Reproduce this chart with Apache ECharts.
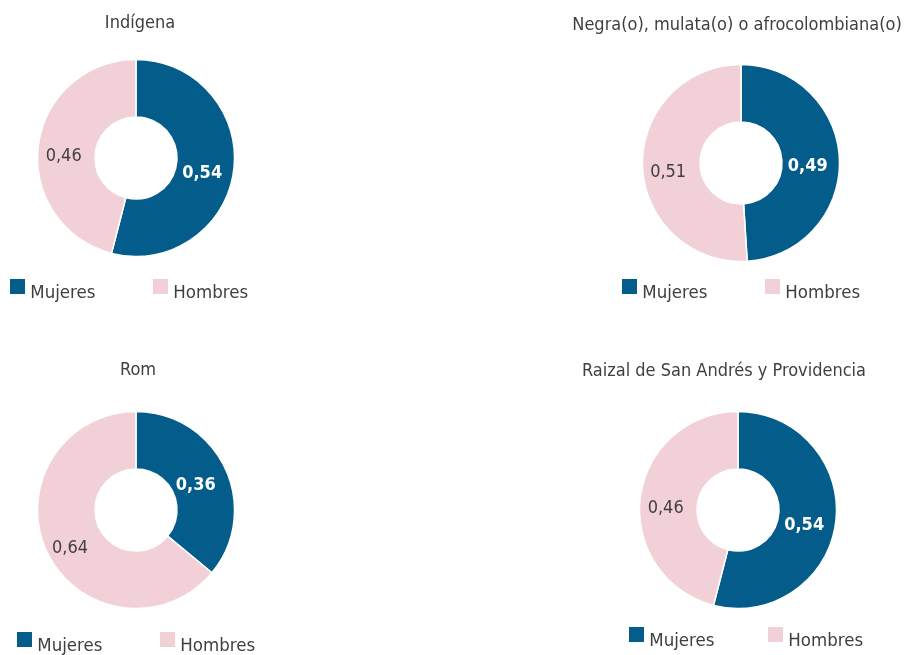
<!DOCTYPE html>
<html>
<head>
<meta charset="utf-8">
<script src="https://cdn.jsdelivr.net/npm/echarts@6/dist/echarts.min.js"></script>
<style>
  html, body { margin: 0; padding: 0; background: #fff; }
  #main { width: 904px; height: 655px; }
</style>
</head>
<body>
<div id="main"></div>
<script>
// data
const groups = ['Indígena', 'Negra(o), mulata(o) o afrocolombiana(o)', 'Rom', 'Raizal de San Andrés y Providencia']
const sexes = ['Mujeres', 'Hombres']
const mujeres = [0.54, 0.49, 0.36, 0.54]
const hombres = [0.46, 0.51, 0.64, 0.46]

// layout per panel
const centers = [[136, 158], [741, 163], [136, 510], [738, 510]]
const titlePos = [[140, 14], [737, 16], [138, 361], [724, 362]]
// [x Mujeres, x Hombres, top]
const legendPos = [[10, 153, 279], [622, 765, 279], [17, 160, 632], [629, 768, 627]]

const FONT = '"DejaVu Sans Condensed", "DejaVu Sans", sans-serif'
const BLUE = '#035C8A'
const PINK = '#F1D0D7'
const TEXT = '#3f3f3f'

const fmt = v => v.toFixed(2).replace('.', ',')

const myChart = echarts.init(document.getElementById('main'))

const title = groups.map((g, i) => ({
  text: g,
  left: titlePos[i][0],
  top: titlePos[i][1],
  padding: 0,
  textAlign: 'center',
  textStyle: { fontFamily: FONT, fontSize: 18, fontWeight: 'normal', color: TEXT }
}))

// a tall empty token pushes the text a few pixels down, like the original
const legend = []
legendPos.forEach(p => {
  sexes.forEach((s, k) => {
    legend.push({
      data: [s],
      left: p[k],
      top: p[2],
      padding: 0,
      icon: 'rect',
      itemWidth: 15,
      itemHeight: 15,
      itemGap: 0,
      selectedMode: false,
      itemStyle: { borderWidth: 0 },
      formatter: name => '{s| }{t|' + name + '}',
      textStyle: {
        rich: {
          s: { fontSize: 1, lineHeight: 32 },
          t: { fontFamily: FONT, fontSize: 18.5, color: TEXT, verticalAlign: 'bottom' }
        }
      }
    })
  })
})

const series = groups.map((g, i) => ({
  name: g,
  type: 'pie',
  center: centers[i],
  radius: [41, 98.5],
  startAngle: 90,
  clockwise: true,
  silent: true,
  itemStyle: { borderColor: '#fff', borderWidth: 1.5 },
  label: {
    position: 'inside',
    formatter: p => '{v|' + fmt(p.value) + '}{s' + p.dataIndex + '| }'
  },
  labelLine: { show: false },
  data: [
    {
      name: sexes[0],
      value: mujeres[i],
      itemStyle: { color: BLUE },
      label: {
        rich: {
          v: { fontFamily: FONT, fontSize: 18, color: '#fff', fontWeight: 'bold', verticalAlign: 'bottom' },
          s0: { fontSize: 1, lineHeight: 30, width: 12 }
        }
      }
    },
    {
      name: sexes[1],
      value: hombres[i],
      itemStyle: { color: PINK },
      label: {
        rich: {
          v: { fontFamily: FONT, fontSize: 18, color: TEXT, fontWeight: 'normal', verticalAlign: 'bottom' },
          s1: { fontSize: 1, lineHeight: 32 }
        }
      }
    }
  ]
}))

myChart.setOption({
  animation: false,
  color: [BLUE, PINK],
  title: title,
  legend: legend,
  series: series
})
</script>
</body>
</html>
